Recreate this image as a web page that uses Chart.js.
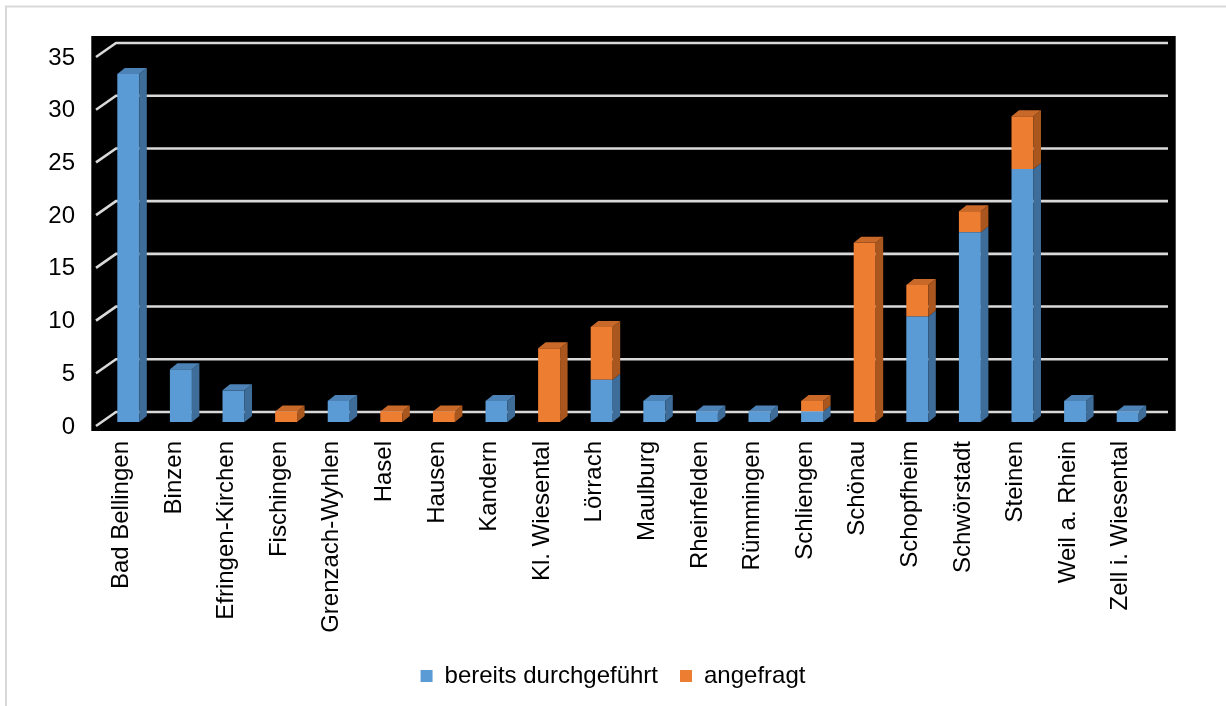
<!DOCTYPE html>
<html>
<head>
<meta charset="utf-8">
<script src="https://cdn.jsdelivr.net/npm/chart.js@4.4.1/dist/chart.umd.min.js"></script>
<style>
  html, body { margin: 0; padding: 0; background: #ffffff; }
  #wrap { width: 1226px; height: 706px; position: relative; }
  canvas { display: block; }
</style>
</head>
<body>
<div id="wrap"><canvas id="chart" width="1226" height="706"></canvas></div>
<script>
// Gemeinden im Landkreis
const categories = [
  'Bad Bellingen', 'Binzen', 'Efringen-Kirchen', 'Fischingen', 'Grenzach-Wyhlen',
  'Hasel', 'Hausen', 'Kandern', 'Kl. Wiesental', 'Lörrach',
  'Maulburg', 'Rheinfelden', 'Rümmingen', 'Schliengen', 'Schönau',
  'Schopfheim', 'Schwörstadt', 'Steinen', 'Weil a. Rhein', 'Zell i. Wiesental'
];

// Anzahl je Gemeinde
const durchgefuehrt = [33, 5, 3, 0, 2, 0, 0, 2, 0, 4, 2, 1, 1, 1, 0, 10, 18, 24, 2, 1];
const angefragt     = [0, 0, 0, 1, 0, 1, 1, 0, 7, 5, 0, 0, 0, 1, 17, 3, 2, 5, 0, 0];

// Achsenbeschriftung
const yTicks = [0, 5, 10, 15, 20, 25, 30, 35];
const seriesNames = ['bereits durchgeführt', 'angefragt'];

const FONT = 'Liberation Sans, Arial, sans-serif';
const FONT_SIZE = 24;
const BLUE = { front: '#5b9bd5', side: '#3f6d99', top: '#4c82b6' };
const ORANGE = { front: '#ed7d31', side: '#a9571f', top: '#c96929' };

// pseudo-3D depth of the bars and of the floor
const BAR_DX = 7.5, BAR_DY = 6;
const FLOOR_FRONT = 4, FLOOR_BACK = 10;

const sceneryPlugin = {
  id: 'scenery',
  beforeDraw(chart) {
    const { ctx, chartArea: a, width, height } = chart;
    ctx.save();
    ctx.fillStyle = '#ffffff';
    ctx.fillRect(0, 0, width, height);
    // outer frame (top and left edges)
    ctx.strokeStyle = '#d9d9d9';
    ctx.lineWidth = 2;
    ctx.beginPath();
    ctx.moveTo(6, height);
    ctx.lineTo(6, 6.5);
    ctx.lineTo(width, 6.5);
    ctx.stroke();
    // black plot backdrop
    ctx.fillStyle = '#000000';
    ctx.fillRect(a.left - 10.7, a.top - 17, (a.right + 21.7) - (a.left - 10.7), (a.bottom + 9) - (a.top - 17));
    ctx.restore();
  },
  beforeDatasetsDraw(chart) {
    const { ctx, chartArea: a, scales } = chart;
    const y = scales.y;
    ctx.save();
    ctx.strokeStyle = '#d9d9d9';
    ctx.lineWidth = 2.6;
    ctx.lineCap = 'butt';
    yTicks.forEach(v => {
      const p = y.getPixelForValue(v);
      ctx.beginPath();
      ctx.moveTo(a.left - 6, p + FLOOR_FRONT);
      ctx.lineTo(a.left + 14, p - FLOOR_BACK);
      ctx.lineTo(a.right + 14, p - FLOOR_BACK);
      ctx.stroke();
    });
    ctx.restore();
  },
  afterDatasetsDraw(chart) {
    const { ctx } = chart;
    const metas = [chart.getDatasetMeta(0), chart.getDatasetMeta(1)];
    const palettes = [BLUE, ORANGE];
    const values = [durchgefuehrt, angefragt];
    ctx.save();
    categories.forEach((_, i) => {
      // topmost non-empty segment gets the lid
      let topIdx = -1;
      for (let d = 0; d < 2; d++) if (values[d][i] > 0) topIdx = d;
      for (let d = 0; d < 2; d++) {
        if (!(values[d][i] > 0)) continue;
        const el = metas[d].data[i];
        const left = el.x - el.width / 2;
        const right = el.x + el.width / 2;
        const top = Math.min(el.y, el.base);
        const bottom = Math.max(el.y, el.base);
        // side face
        ctx.fillStyle = palettes[d].side;
        ctx.beginPath();
        ctx.moveTo(right, bottom);
        ctx.lineTo(right, top);
        ctx.lineTo(right + BAR_DX, top - BAR_DY);
        ctx.lineTo(right + BAR_DX, bottom - BAR_DY);
        ctx.closePath();
        ctx.fill();
        if (d === topIdx) {
          ctx.fillStyle = palettes[d].top;
          ctx.beginPath();
          ctx.moveTo(left, top);
          ctx.lineTo(right, top);
          ctx.lineTo(right + BAR_DX, top - BAR_DY);
          ctx.lineTo(left + BAR_DX, top - BAR_DY);
          ctx.closePath();
          ctx.fill();
        }
      }
    });
    ctx.restore();
  }
};

new Chart(document.getElementById('chart'), {
  type: 'bar',
  data: {
    labels: categories,
    datasets: [
      {
        label: seriesNames[0],
        data: durchgefuehrt,
        backgroundColor: BLUE.front,
        borderWidth: 0,
        categoryPercentage: 1,
        barPercentage: 0.418
      },
      {
        label: seriesNames[1],
        data: angefragt,
        backgroundColor: ORANGE.front,
        borderWidth: 0,
        categoryPercentage: 1,
        barPercentage: 0.418
      }
    ]
  },
  options: {
    responsive: false,
    animation: false,
    devicePixelRatio: 1,
    layout: { padding: { top: 53, left: 0, right: 0, bottom: 8 } },
    plugins: {
      legend: {
        position: 'bottom',
        labels: {
          font: { family: FONT, size: FONT_SIZE },
          color: '#000000',
          boxWidth: 12,
          boxHeight: 12,
          padding: 22
        }
      },
      tooltip: { enabled: false }
    },
    scales: {
      x: {
        stacked: true,
        grid: { display: false, drawTicks: false },
        border: { display: false },
        ticks: {
          font: { family: FONT, size: FONT_SIZE },
          color: '#000000',
          minRotation: 90,
          maxRotation: 90,
          autoSkip: false,
          padding: 19,
          labelOffset: -7
        },
        afterFit(s) { s.height = 220; }
      },
      y: {
        stacked: true,
        min: 0,
        max: 35,
        grid: { display: false, drawTicks: false },
        border: { display: false },
        ticks: {
          stepSize: 5,
          font: { family: FONT, size: FONT_SIZE },
          color: '#000000',
          padding: 27,
          labelOffset: 5
        },
        afterFit(s) { s.width = 102; }
      },
      yRight: {
        position: 'right',
        display: true,
        grid: { display: false, drawTicks: false },
        border: { display: false },
        ticks: { display: false },
        afterFit(s) { s.width = 72; }
      }
    }
  },
  plugins: [sceneryPlugin]
});
</script>
</body>
</html>
